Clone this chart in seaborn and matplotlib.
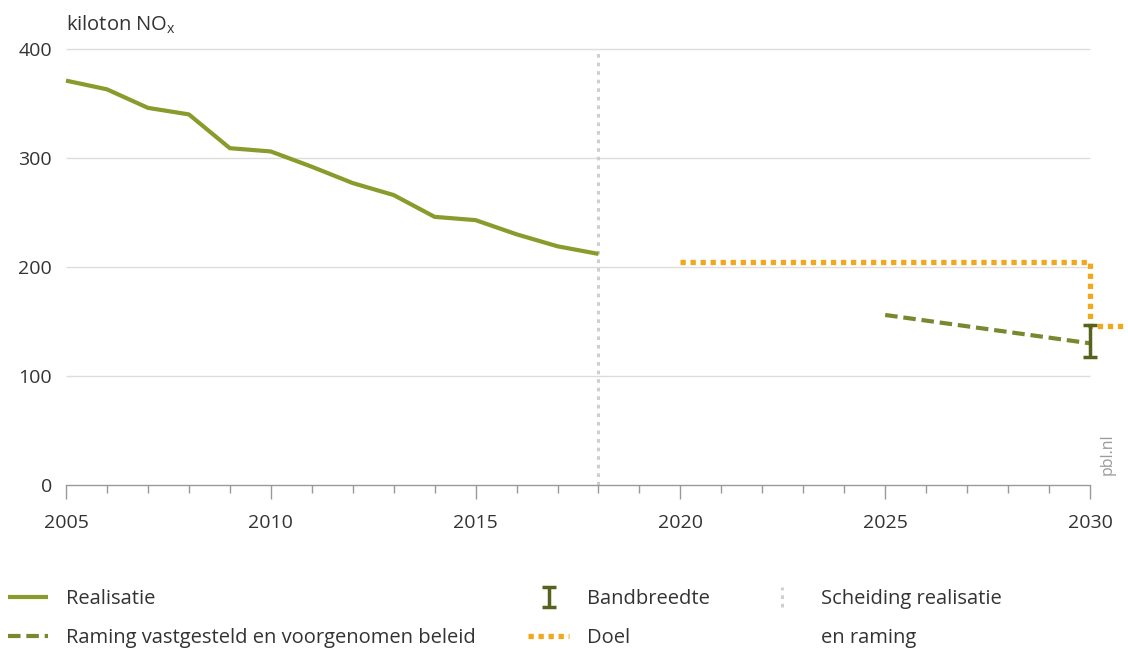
import matplotlib
matplotlib.use("Agg")
import matplotlib.pyplot as plt
from matplotlib.lines import Line2D
import seaborn as sns
import pandas as pd

# Data (kiloton NOx)
real_years = [2005, 2006, 2007, 2008, 2009, 2010, 2011, 2012, 2013, 2014, 2015, 2016, 2017, 2018]
real_values = [371, 363, 346, 340, 309, 306, 292, 277, 266, 246, 243, 230, 219, 212]

raming_years = [2025, 2030]
raming_values = [156, 130]

band_year = 2030
band_low = 117
band_high = 147

doel_years = [2020, 2030, 2030, 2030.85]
doel_values = [205, 205, 146, 146]

sep_year = 2018

x_ticks = [2005, 2010, 2015, 2020, 2025, 2030]
y_ticks = [0, 100, 200, 300, 400]

c_real = "#8a9a2b"
c_raming = "#77892f"
c_band = "#55631f"
c_doel = "#f0a81c"
c_sep = "#cfcfcf"
c_text = "#333333"

sns.set_theme(style="white")
plt.rcParams["font.family"] = ["Open Sans", "DejaVu Sans"]

fig = plt.figure(figsize=(11.28, 6.49), dpi=100)
ax = fig.add_axes([0.0585, 0.2527, 0.9078, 0.6718])

df_real = pd.DataFrame({"jaar": real_years, "nox": real_values})
df_ram = pd.DataFrame({"jaar": raming_years, "nox": raming_values})
df_doel = pd.DataFrame({"jaar": doel_years, "nox": doel_values})

# gridlines
for y in y_ticks[1:]:
    ax.axhline(y, color="#dddddd", lw=1, zorder=0)

# separator realisatie / raming (errorbar so the legend shows a vertical dotted mark)
sep = ax.errorbar([sep_year], [200], yerr=[[200], [200]], fmt="none", ecolor=c_sep,
                  elinewidth=2.2, capsize=0, label="Scheiding realisatie", zorder=1)
sep[2][0].set_linestyle((0, (1.2, 1.6)))

sns.lineplot(data=df_real, x="jaar", y="nox", ax=ax, color=c_real, lw=3,
             label="Realisatie", zorder=3)
sns.lineplot(data=df_ram, x="jaar", y="nox", ax=ax, color=c_raming, lw=3,
             linestyle=(0, (3, 1.4)), label="Raming vastgesteld en voorgenomen beleid", zorder=3)
sns.lineplot(data=df_doel, x="jaar", y="nox", ax=ax, color=c_doel, lw=3.8, sort=False,
             estimator=None, linestyle=(0, (1, 0.9)), label="Doel", zorder=2)
for ln in ax.get_lines():
    ln.set_clip_on(False)
    ln.set_solid_capstyle("butt")
    ln.set_dash_capstyle("butt")

mid = raming_values[-1]
band = ax.errorbar([band_year], [mid], yerr=[[mid - band_low], [band_high - mid]], fmt="none",
                   ecolor=c_band, elinewidth=2.5, capsize=5, capthick=2.5, label="Bandbreedte", zorder=4)
for art in band[1] + tuple(band[2]):
    art.set_clip_on(False)

ax.set_xlim(2005, 2030)
ax.set_ylim(0, 400)
ax.set_xticks(x_ticks)
ax.set_xticks(range(2005, 2031), minor=True)
ax.set_yticks(y_ticks)
ax.set_xlabel("")
ax.set_ylabel("")
for s in ["top", "right", "left"]:
    ax.spines[s].set_visible(False)
ax.spines["bottom"].set_color("#999999")
ax.spines["bottom"].set_linewidth(1)
ax.tick_params(axis="x", which="major", bottom=True, length=10, width=1, color="#999999",
               pad=11, labelsize=14, labelcolor=c_text)
ax.tick_params(axis="x", which="minor", bottom=True, length=6, width=1, color="#999999")
ax.tick_params(axis="y", length=0, pad=10, labelsize=14, labelcolor=c_text)

ax.text(0.0, 1.03, r"kiloton NO$_\mathregular{x}$", transform=ax.transAxes, fontsize=14.5,
        color=c_text, ha="left", va="bottom")
fig.text(0.982, 0.30, "pbl.nl", rotation=90, color="#9a9a9a", fontsize=11.5, ha="center", va="center")

handles, labels = ax.get_legend_handles_labels()
hmap = dict(zip(labels, handles))
hmap["en raming"] = Line2D([], [], linestyle="none")
order = ["Realisatie", "Raming vastgesteld en voorgenomen beleid", "Bandbreedte", "Doel",
         "Scheiding realisatie", "en raming"]
leg = ax.legend([hmap[k] for k in order], order, loc="upper left", bbox_to_anchor=(-0.009, 0.12),
                bbox_transform=fig.transFigure, ncol=3, frameon=False, fontsize=14.5, handlelength=2.0,
                handletextpad=0.9, columnspacing=2.6, labelspacing=0.95, labelcolor=c_text)

fig.savefig("out.png", dpi=100)
